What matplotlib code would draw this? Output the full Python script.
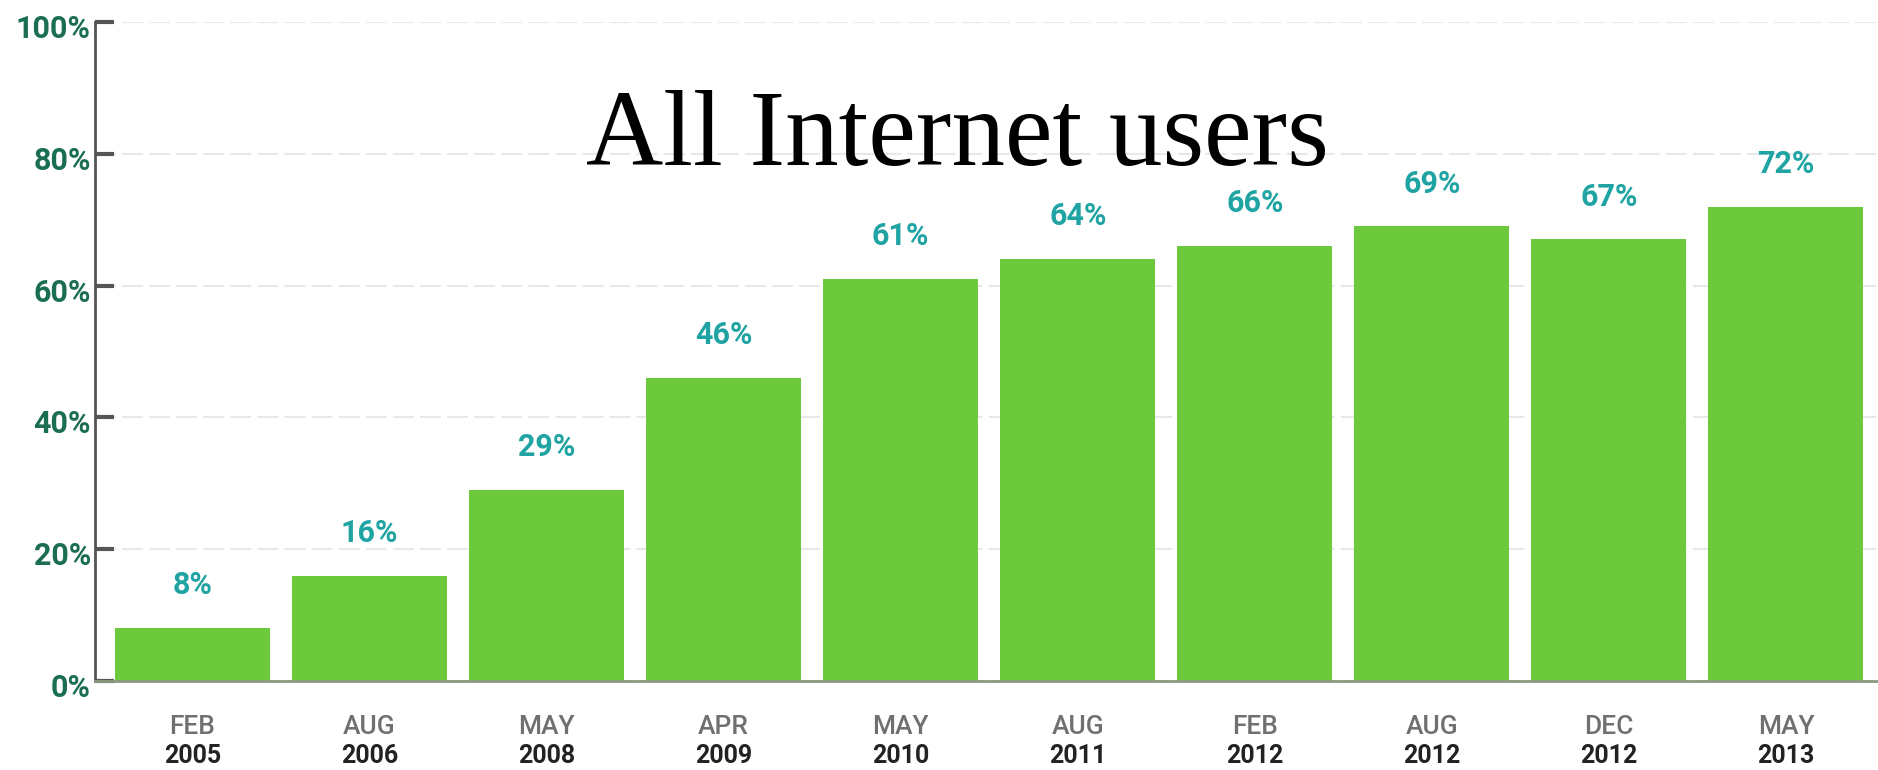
import matplotlib
matplotlib.use("Agg")
import matplotlib.pyplot as plt
import matplotlib.transforms as mtransforms

# survey waves and share of internet users (%)
months = ["FEB", "AUG", "MAY", "APR", "MAY", "AUG", "FEB", "AUG", "DEC", "MAY"]
years = ["2005", "2006", "2008", "2009", "2010", "2011", "2012", "2012", "2012", "2013"]
values = [8, 16, 29, 46, 61, 64, 66, 69, 67, 72]
yticks = [0, 20, 40, 60, 80, 100]

bar_color = "#6bc93b"
tick_color = "#1b6e52"
value_color = "#1fa3a3"

fig = plt.figure(figsize=(18.78, 7.70), dpi=100)
ax = fig.add_axes([0.0506, 0.1156, 0.9494, 0.8558])

x = list(range(len(values)))
ax.bar(x, values, width=0.875, color=bar_color, zorder=2)

ax.set_xlim(-0.55, 9.52)
ax.set_ylim(0, 100)

# faint dashed gridlines
ax.set_yticks(yticks)
ax.set_yticklabels([f"{t}%" for t in yticks], fontfamily="Roboto",
                   fontweight="bold", fontsize=22, color=tick_color)
ax.yaxis.grid(True, linestyle=(0, (10, 3)), color="#e8e8e8", linewidth=1.5, zorder=0)
ax.tick_params(axis="y", direction="in", length=14, width=3, color="#555555", pad=3)
shift = mtransforms.ScaledTranslation(0, -4 / 100, fig.dpi_scale_trans)
for lab in ax.get_yticklabels():
    lab.set_transform(lab.get_transform() + shift)

ax.set_xticks([])
for side in ["top", "right"]:
    ax.spines[side].set_visible(False)
ax.spines["left"].set_color("#555555")
ax.spines["left"].set_linewidth(2)
ax.spines["bottom"].set_color("#8a9a80")
ax.spines["bottom"].set_linewidth(2)

# value labels over the bars
for xi, v in zip(x, values):
    ax.annotate(f"{v}%", (xi, v), xytext=(0, 20), textcoords="offset points",
                ha="center", va="bottom", fontfamily="Roboto", fontweight="bold",
                fontsize=22, color=value_color)

# two-line category labels: month in grey, year in black
for xi, m, yr in zip(x, months, years):
    ax.annotate(m, (xi, 0), xycoords=("data", "axes fraction"), xytext=(0, -33),
                textcoords="offset points", ha="center", va="center",
                fontfamily="Roboto", fontweight="medium", fontsize=19, color="#707070")
    ax.annotate(yr, (xi, 0), xycoords=("data", "axes fraction"), xytext=(0, -54),
                textcoords="offset points", ha="center", va="center",
                fontfamily="Roboto", fontweight="bold", fontsize=18, color="#222222")

fig.text(0.51, 0.786, "All Internet users", ha="center", va="baseline",
         fontfamily="Liberation Serif", fontsize=77, color="black")

fig.savefig("out.png", dpi=100)
